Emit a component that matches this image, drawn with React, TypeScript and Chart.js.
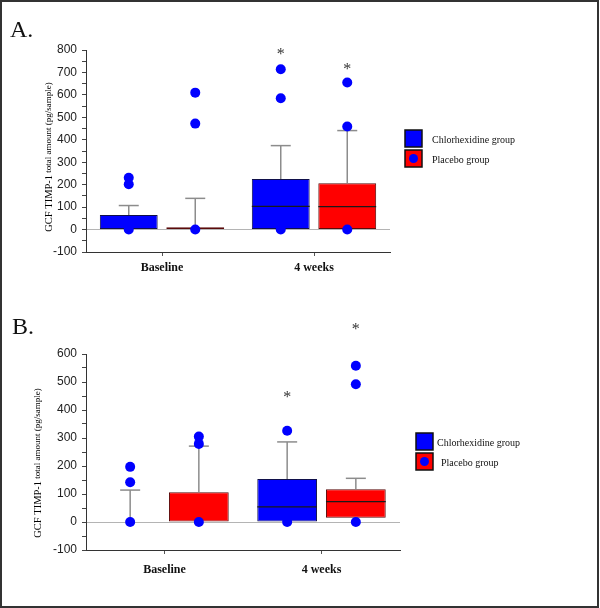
import React, { useEffect, useRef } from "react";
import { Chart, registerables } from "chart.js";

Chart.register(...registerables);

// ---------- shared ----------
const categories = ["Baseline", "4 weeks"];
const seriesNames = ["Chlorhexidine group", "Placebo group"];
const seriesColors = ["#0000ff", "#ff0000"];
const seriesBorders = ["#10104a", "#5a0a0a"];
const outlierColor = "#0000ff";
const yTitleMain = "GCF TIMP-1";
const yTitleRest = " total amount (pg/sample)";

// ---------- Panel A ----------
const aTickLabels = [-100, 0, 100, 200, 300, 400, 500, 600, 700, 800];
const aChxQ1 = [0, 0];
const aChxQ3 = [65, 225];
const aChxMedian = [0, 103];
const aChxWhisker = [107, 374];
const aChxOutliers = [[231, 202, 0], [714, 585, 0]];
const aChxStar = [null, 796];
const aPlcQ1 = [0, 0];
const aPlcQ3 = [10, 206];
const aPlcMedian = [0, 102];
const aPlcWhisker = [139, 441];
const aPlcOutliers = [[610, 472, 0], [655, 459, 0]];
const aPlcStar = [null, 730];

// ---------- Panel B ----------
const bTickLabels = [-100, 0, 100, 200, 300, 400, 500, 600];
const bChxQ1 = [0, 0];
const bChxQ3 = [0, 154];
const bChxMedian = [0, 54];
const bChxWhisker = [114, 286];
const bChxOutliers = [[197, 142, 0], [326, 0]];
const bChxStar = [null, 457];
const bPlcQ1 = [0, 15];
const bPlcQ3 = [106, 117];
const bPlcMedian = [0, 73];
const bPlcWhisker = [271, 156];
const bPlcOutliers = [[305, 279, 0], [558, 492, 0]];
const bPlcStar = [null, 701];

const SANS = "'Liberation Sans', Arial, sans-serif";
const SERIF = "'Liberation Serif', 'Times New Roman', serif";

const boxPlugin = {
  id: "boxExtras",
  afterDatasetsDraw(chart: any) {
    const ctx = chart.ctx;
    const ys = chart.scales.y;
    const line = (x1: number, y1: number, x2: number, y2: number) => {
      ctx.beginPath();
      ctx.moveTo(x1, y1);
      ctx.lineTo(x2, y2);
      ctx.stroke();
    };
    ctx.save();
    chart.data.datasets.forEach((ds: any, i: number) => {
      const meta = chart.getDatasetMeta(i);
      meta.data.forEach((el: any, j: number) => {
        const { x, width } = el.getProps(["x", "width"], true);
        const topY = ys.getPixelForValue(ds.q3[j]);
        const wY = ys.getPixelForValue(ds.whisker[j]);
        ctx.strokeStyle = "#8c8c8c";
        ctx.lineWidth = 1.5;
        line(x, topY, x, wY);
        line(x - 10, wY, x + 10, wY);
        if (ds.median[j] > ds.q1[j]) {
          const mY = ys.getPixelForValue(ds.median[j]);
          ctx.strokeStyle = "#1a1a1a";
          ctx.lineWidth = 1.3;
          line(x - width / 2, mY, x + width / 2, mY);
        }
      });
    });
    chart.data.datasets.forEach((ds: any, i: number) => {
      const meta = chart.getDatasetMeta(i);
      meta.data.forEach((el: any, j: number) => {
        const { x } = el.getProps(["x"], true);
        ctx.fillStyle = outlierColor;
        (ds.outliers[j] || []).forEach((v: number) => {
          ctx.beginPath();
          ctx.arc(x, ys.getPixelForValue(v), 5, 0, Math.PI * 2);
          ctx.fill();
        });
        const s = ds.star[j];
        if (s !== null && s !== undefined) {
          ctx.fillStyle = "#333";
          ctx.font = `16px ${SERIF}`;
          ctx.textAlign = "center";
          ctx.textBaseline = "alphabetic";
          ctx.fillText("*", x, ys.getPixelForValue(s) + 8);
        }
      });
    });
    ctx.restore();
  },
};

const decoPlugin = {
  id: "deco",
  afterDraw(chart: any, _args: any, opts: any) {
    const ctx = chart.ctx;
    ctx.save();
    ctx.fillStyle = "#111";
    ctx.font = `24px ${SERIF}`;
    ctx.textAlign = "left";
    ctx.textBaseline = "alphabetic";
    ctx.fillText(opts.label, opts.labelX, opts.labelY);
    ctx.translate(opts.titleX, opts.titleY);
    ctx.rotate(-Math.PI / 2);
    ctx.textBaseline = "middle";
    ctx.font = `10.5px ${SERIF}`;
    const w1 = ctx.measureText(yTitleMain).width;
    ctx.font = `9px ${SERIF}`;
    const w2 = ctx.measureText(yTitleRest).width;
    const start = -(w1 + w2) / 2;
    ctx.fillStyle = "#000";
    ctx.font = `10.5px ${SERIF}`;
    ctx.fillText(yTitleMain, start, 0);
    ctx.font = `9px ${SERIF}`;
    ctx.fillText(yTitleRest, start + w1, 0);
    ctx.setTransform(1, 0, 0, 1, 0, 0);
    const sz = 17;
    seriesNames.forEach((name, i) => {
      const sx = opts.legendX;
      const sy = opts.legendY + i * opts.legendGap;
      ctx.fillStyle = seriesColors[i];
      ctx.fillRect(sx, sy, sz, sz);
      ctx.strokeStyle = "#111";
      ctx.lineWidth = 1.5;
      ctx.strokeRect(sx, sy, sz, sz);
      if (i === 1) {
        ctx.fillStyle = outlierColor;
        ctx.beginPath();
        ctx.arc(sx + sz / 2, sy + sz / 2, 4.5, 0, Math.PI * 2);
        ctx.fill();
      }
      ctx.fillStyle = "#111";
      ctx.font = `10px ${SERIF}`;
      ctx.textAlign = "left";
      ctx.textBaseline = "middle";
      ctx.fillText(name, sx + sz + opts.textGap[i], sy + sz / 2 + 2);
    });
    ctx.restore();
  },
};

type PanelCfg = {
  tickLabels: number[];
  min: number;
  max: number;
  chx: any;
  plc: any;
  padding: any;
  xPad: number;
  deco: any;
};

function makeDataset(name: string, color: string, border: string, q1: number[], q3: number[], median: number[], whisker: number[], outliers: number[][], star: (number | null)[]) {
  return {
    label: name,
    data: q1.map((v, i) => [v, q3[i]]),
    backgroundColor: color,
    borderColor: border,
    borderWidth: 1,
    borderSkipped: false,
    q1,
    q3,
    median,
    whisker,
    outliers,
    star,
    categoryPercentage: 0.875,
    barPercentage: 0.87,
  };
}

function Panel({ cfg, top }: { cfg: PanelCfg; top: number }) {
  const ref = useRef<HTMLCanvasElement | null>(null);
  useEffect(() => {
    if (!ref.current) return;
    const chart = new Chart(ref.current, {
      type: "bar",
      data: {
        labels: categories,
        datasets: [cfg.chx, cfg.plc],
      },
      options: {
        animation: false,
        responsive: false,
        devicePixelRatio: 1,
        layout: { padding: cfg.padding },
        plugins: {
          legend: { display: false },
          tooltip: { enabled: false },
          deco: cfg.deco,
        } as any,
        scales: {
          x: {
            type: "category",
            offset: true,
            afterFit: (s: any) => {
              s.height = 30;
            },
            grid: {
              display: true,
              drawOnChartArea: false,
              drawTicks: true,
              tickLength: 4,
              offset: false,
              color: "rgba(0,0,0,0)",
              tickColor: "#555",
            },
            border: { color: "#333", width: 1 },
            ticks: {
              color: "#111",
              padding: cfg.xPad,
              font: { family: SERIF, size: 12, weight: "bold" },
            },
          },
          y: {
            type: "linear",
            min: cfg.min,
            max: cfg.max,
            afterFit: (s: any) => {
              s.width = 86;
            },
            grid: {
              color: (c: any) => (c.tick && c.tick.value === 0 ? "#b4b4b4" : "rgba(0,0,0,0)"),
              tickColor: "#444",
              tickLength: 4,
              drawTicks: true,
              lineWidth: 1,
            },
            border: { color: "#333", width: 1 },
            ticks: {
              stepSize: 50,
              autoSkip: false,
              padding: 5,
              color: "#222",
              font: { family: SANS, size: 12 },
              callback: (v: any) => (cfg.tickLabels.includes(Number(v)) ? String(v) : ""),
            },
          },
        },
      } as any,
      plugins: [boxPlugin, decoPlugin],
    });
    return () => chart.destroy();
  }, [cfg]);
  return (
    <div style={{ position: "absolute", left: 0, top, width: 600, height: 304 }}>
      <canvas ref={ref} width={600} height={304} style={{ display: "block", width: 600, height: 304 }} />
    </div>
  );
}

const panelA: PanelCfg = {
  tickLabels: aTickLabels,
  min: -100,
  max: 800,
  chx: makeDataset(seriesNames[0], seriesColors[0], seriesBorders[0], aChxQ1, aChxQ3, aChxMedian, aChxWhisker, aChxOutliers, aChxStar),
  plc: makeDataset(seriesNames[1], seriesColors[1], seriesBorders[1], aPlcQ1, aPlcQ3, aPlcMedian, aPlcWhisker, aPlcOutliers, aPlcStar),
  padding: { top: 50, right: 210, bottom: 22, left: 0 },
  xPad: 5,
  deco: {
    label: "A.",
    labelX: 10,
    labelY: 37,
    titleX: 49,
    titleY: 157,
    legendX: 405,
    legendY: 130,
    legendGap: 20,
    textGap: [10, 10],
  },
};

const panelB: PanelCfg = {
  tickLabels: bTickLabels,
  min: -100,
  max: 600,
  chx: makeDataset(seriesNames[0], seriesColors[0], seriesBorders[0], bChxQ1, bChxQ3, bChxMedian, bChxWhisker, bChxOutliers, bChxStar),
  plc: makeDataset(seriesNames[1], seriesColors[1], seriesBorders[1], bPlcQ1, bPlcQ3, bPlcMedian, bPlcWhisker, bPlcOutliers, bPlcStar),
  padding: { top: 50, right: 200, bottom: 28, left: 0 },
  xPad: 9,
  deco: {
    label: "B.",
    labelX: 12,
    labelY: 30,
    titleX: 38,
    titleY: 159,
    legendX: 416,
    legendY: 129,
    legendGap: 20,
    textGap: [4, 8],
  },
};

export default function App() {
  return (
    <div style={{ position: "absolute", left: 0, top: 0, width: 600, height: 608, background: "#fff", overflow: "hidden" }}>
      <Panel cfg={panelA} top={0} />
      <Panel cfg={panelB} top={304} />
      <div
        style={{
          position: "absolute",
          left: 0,
          top: 0,
          width: 599,
          height: 608,
          boxSizing: "border-box",
          border: "2px solid #333",
          pointerEvents: "none",
        }}
      />
    </div>
  );
}
